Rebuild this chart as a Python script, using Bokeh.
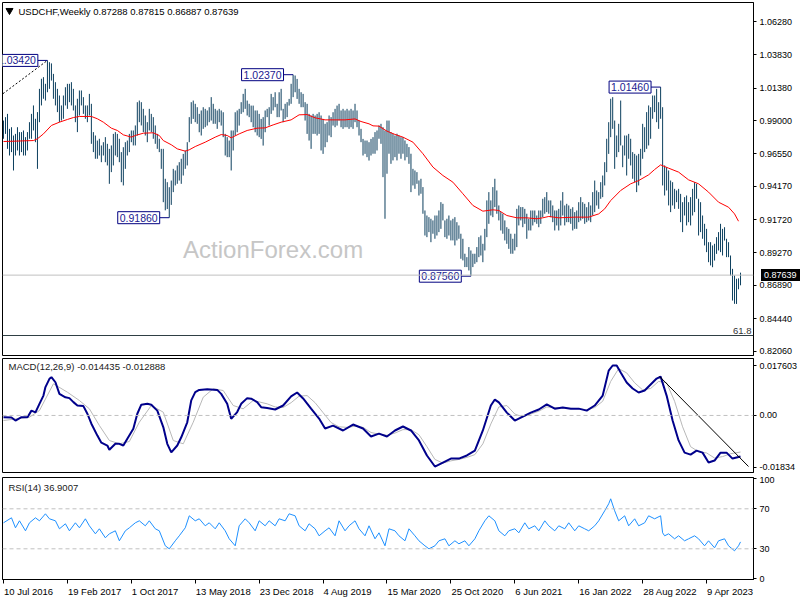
from bokeh.plotting import figure
from bokeh.layouts import column
from bokeh.models import Range1d, FixedTicker, PrintfTickFormatter, Span, Label, Div
from bokeh.core.properties import value
from bokeh.embed import file_html
from bokeh.resources import INLINE

# ---------------- data (weekly USDCHF, bar index 0 = week of 10 Jul 2016) ----------------
highs = [
0.9900,0.9925,0.9949,0.9839,0.9851,0.9790,0.9802,0.9851,0.9815,0.9815,
0.9827,0.9778,0.9815,0.9888,0.9949,1.0011,0.9913,0.9962,1.0133,1.0207,
1.0219,1.0170,1.0342,1.0329,1.0320,1.0243,1.0182,1.0133,1.0084,1.0011,
1.0084,1.0145,1.0170,1.0170,1.0182,1.0133,1.0011,1.0060,1.0121,1.0121,
1.0072,1.0011,1.0011,1.0096,1.0023,0.9815,0.9790,0.9753,0.9766,0.9717,
0.9741,0.9778,0.9729,0.9692,0.9717,0.9802,0.9815,0.9802,0.9766,0.9668,
0.9704,0.9741,0.9753,0.9802,0.9827,0.9827,0.9864,1.0035,1.0047,1.0035,
0.9986,0.9937,0.9888,0.9986,0.9949,0.9925,0.9864,0.9802,0.9766,0.9692,
0.9692,0.9472,0.9447,0.9410,0.9459,0.9545,0.9533,0.9570,0.9594,0.9619,
0.9655,0.9680,0.9741,0.9925,
1.0035,1.0047,1.0023,0.9998,0.9949,0.9974,0.9998,0.9986,0.9974,0.9998,
1.0072,1.0023,0.9986,0.9974,0.9986,0.9974,0.9961,0.9802,0.9778,0.9753,
0.9827,0.9827,0.9961,0.9974,0.9986,1.0035,1.0096,1.0133,1.0047,1.0023,
1.0010,1.0010,0.9974,0.9974,0.9949,0.9912,0.9925,0.9974,0.9986,0.9998,
1.0096,1.0072,1.0108,1.0023,1.0108,1.0133,0.9986,1.0023,1.0035,1.0059,
1.0170,1.0237,1.0231,1.0206,1.0133,1.0108,1.0096,1.0035,1.0023,0.9949,
0.9937,0.9949,0.9937,0.9949,0.9961,0.9937,0.9912,0.9876,0.9888,0.9937,
0.9925,0.9961,0.9986,1.0010,1.0023,0.9974,0.9986,0.9974,0.9986,0.9974,
0.9986,0.9974,1.0023,0.9974,0.9900,0.9839,0.9765,0.9753,0.9753,0.9741,
0.9765,
0.9778,0.9815,0.9827,0.9864,0.9876,0.9851,0.9827,0.9900,0.9900,0.9815,
0.9803,0.9790,0.9803,0.9790,0.9778,0.9778,0.9754,0.9729,0.9705,0.9656,
0.9545,0.9533,0.9521,0.9460,0.9472,0.9411,0.9239,0.9202,0.9190,0.9178,
0.9166,0.9202,0.9202,0.9239,0.9300,0.9288,0.9166,0.9178,0.9202,0.9166,
0.9178,0.9190,0.9153,0.9129,0.9068,0.9031,0.8921,0.8896,0.8970,0.8945,
0.8921,0.8921,0.8970,0.9043,0.9055,0.8994,0.9104,0.9313,0.9374,0.9313,
0.9411,0.9472,0.9386,0.9276,0.9227,0.9215,0.9166,0.9116,0.9104,0.9068,
0.9031,0.9068,0.9251,0.9276,0.9264,0.9264,0.9251,0.9215,0.9178,0.9239,
0.9239,0.9239,0.9202,0.9239,0.9239,0.9325,0.9337,0.9374,0.9313,0.9313,
0.9276,0.9239,0.9239,0.9251,
0.9312,0.9374,0.9276,0.9288,0.9276,0.9251,0.9263,0.9227,0.9239,0.9300,
0.9337,0.9300,0.9288,0.9263,0.9300,0.9276,0.9374,0.9459,0.9386,0.9374,
0.9447,0.9496,0.9594,0.9766,0.9888,1.0060,1.0072,0.9900,0.9790,0.9876,
1.0047,0.9717,0.9790,0.9790,0.9802,0.9766,0.9668,0.9655,0.9643,0.9655,
0.9692,0.9876,0.9851,0.9962,1.0011,0.9998,1.0084,1.0084,1.0133,1.0035,
1.0146,0.9998,0.9570,0.9557,0.9533,0.9459,0.9447,0.9398,0.9386,0.9398,
0.9361,0.9300,0.9337,0.9349,0.9300,0.9337,0.9398,0.9447,0.9435,0.9325,
0.9300,0.9202,0.9141,0.9104,0.9006,0.9006,0.8982,0.8994,0.9043,0.9080,
0.9141,0.9104,0.9116,0.9031,0.9006,0.8908,0.8810,0.8761,0.8737,0.8740,
0.8782]

lows = [
0.9766,0.9802,0.9692,0.9643,0.9668,0.9533,0.9643,0.9680,0.9643,0.9668,
0.9643,0.9643,0.9680,0.9766,0.9766,0.9827,0.9741,0.9545,0.9888,1.0011,
1.0060,1.0047,1.0108,1.0133,1.0194,1.0060,1.0011,0.9962,0.9888,0.9900,
0.9913,1.0011,0.9986,1.0035,1.0011,0.9974,0.9888,0.9815,0.9937,1.0011,
0.9949,0.9913,0.9888,0.9937,0.9729,0.9668,0.9619,0.9619,0.9643,0.9594,
0.9643,0.9594,0.9570,0.9435,0.9521,0.9570,0.9643,0.9631,0.9594,0.9447,
0.9423,0.9545,0.9643,0.9668,0.9741,0.9717,0.9717,0.9790,0.9888,0.9864,
0.9815,0.9790,0.9741,0.9827,0.9815,0.9766,0.9729,0.9692,0.9668,0.9545,
0.9300,0.9240,0.9250,0.9186,0.9280,0.9374,0.9423,0.9435,0.9459,0.9435,
0.9496,0.9545,0.9570,0.9741,
0.9876,0.9912,0.9888,0.9876,0.9814,0.9790,0.9839,0.9851,0.9863,0.9888,
0.9900,0.9876,0.9876,0.9839,0.9888,0.9863,0.9778,0.9643,0.9631,0.9631,
0.9533,0.9680,0.9790,0.9814,0.9863,0.9949,0.9961,0.9986,0.9937,0.9925,
0.9888,0.9851,0.9814,0.9790,0.9778,0.9765,0.9716,0.9814,0.9925,0.9863,
0.9949,0.9974,0.9998,0.9925,0.9925,0.9974,0.9888,0.9912,0.9925,1.0010,
1.0023,1.0072,1.0108,1.0059,1.0023,0.9998,0.9998,0.9900,0.9802,0.9753,
0.9692,0.9802,0.9802,0.9790,0.9802,0.9680,0.9655,0.9704,0.9741,0.9790,
0.9778,0.9863,0.9851,0.9863,0.9900,0.9851,0.9839,0.9851,0.9851,0.9839,
0.9851,0.9839,0.9888,0.9851,0.9790,0.9741,0.9643,0.9655,0.9631,0.9606,
0.9643,
0.9656,0.9656,0.9680,0.9766,0.9729,0.9484,0.9178,0.9509,0.9656,0.9582,
0.9607,0.9631,0.9607,0.9656,0.9619,0.9656,0.9607,0.9631,0.9582,0.9374,
0.9423,0.9398,0.9435,0.9349,0.9362,0.9215,0.9055,0.9043,0.9080,0.9006,
0.9068,0.9031,0.9055,0.9080,0.9104,0.9166,0.9043,0.9031,0.9055,0.9019,
0.9019,0.8982,0.9019,0.9031,0.8884,0.8872,0.8823,0.8823,0.8798,0.8756,
0.8823,0.8847,0.8859,0.8896,0.8908,0.8859,0.8945,0.9043,0.9141,0.9202,
0.9190,0.9264,0.9215,0.9166,0.9092,0.9068,0.9019,0.8994,0.8957,0.8921,
0.8921,0.8945,0.8970,0.9129,0.9166,0.9116,0.9141,0.9031,0.9092,0.9092,
0.9129,0.9153,0.9141,0.9116,0.9141,0.9190,0.9215,0.9227,0.9215,0.9190,
0.9153,0.9092,0.9129,0.9092,
0.9129,0.9202,0.9129,0.9153,0.9153,0.9141,0.9092,0.9104,0.9104,0.9153,
0.9165,0.9178,0.9141,0.9153,0.9165,0.9153,0.9202,0.9227,0.9276,0.9251,
0.9325,0.9337,0.9423,0.9521,0.9655,0.9778,0.9839,0.9545,0.9631,0.9668,
0.9717,0.9557,0.9643,0.9496,0.9619,0.9570,0.9472,0.9447,0.9374,0.9423,
0.9496,0.9619,0.9668,0.9692,0.9717,0.9766,0.9913,0.9962,0.9888,0.9839,
0.9913,0.9423,0.9349,0.9386,0.9276,0.9227,0.9276,0.9251,0.9300,0.9251,
0.9153,0.9080,0.9202,0.9129,0.9153,0.9129,0.9202,0.9227,0.9325,0.9055,
0.9080,0.9031,0.8982,0.8933,0.8859,0.8835,0.8822,0.8871,0.8920,0.8945,
0.8933,0.8908,0.9018,0.8896,0.8896,0.8761,0.8577,0.8553,0.8552,0.8660,
0.8689]

# red moving average (sampled week index, value)
ma_week = [0,15,17,20,24,28,32,35,38,44,47,50,54,57,60,64,66,70,75,78,80,84,87,91,93,
           96,101,106,109,112,114,118,122,127,131,135,139,144,148,152,156,161,166,171,176,179,183,
           185,188,192,196,200,205,210,215,220,225,230,235,240,245,248,252,257,262,267,270,273,278,
           286,293,298,301,304,309,314,318,323,326,329,333,338,343,348,353,358,363,366,368]
ma_value = [0.9746,0.9753,0.9766,0.9802,0.9864,0.9888,0.9908,0.9922,0.9930,0.9930,0.9913,0.9888,
            0.9844,0.9827,0.9795,0.9778,0.9790,0.9807,0.9810,0.9790,0.9753,0.9722,0.9692,0.9675,0.9685,
            0.9709,0.9741,0.9778,0.9797,0.9790,0.9773,0.9802,0.9827,0.9844,0.9846,0.9868,0.9888,0.9905,
            0.9942,0.9944,0.9920,0.9905,0.9905,0.9905,0.9912,0.9893,0.9876,
            0.9861,0.9859,0.9822,0.9798,0.9778,0.9741,0.9656,0.9558,0.9496,0.9447,0.9362,0.9276,0.9234,
            0.9244,0.9239,0.9202,0.9185,0.9185,0.9178,0.9185,0.9195,0.9185,
            0.9190,0.9190,0.9214,0.9251,0.9312,0.9386,0.9435,0.9459,0.9501,0.9540,0.9574,0.9550,0.9521,
            0.9464,0.9435,0.9374,0.9300,0.9263,0.9214,0.9160]

# MACD(12,26,9) main line and signal (sampled)
macd_week = [0,4,6,9,12,14,16,18,20,21,23,24,26,28,31,33,35,37,40,42,44,47,49,52,53,56,58,60,62,65,
             67,69,72,74,77,80,82,84,87,89,92,94,96,98,102,107,109,112,114,117,119,122,124,127,129,132,
             136,140,144,147,150,154,158,161,165,170,175,180,184,188,192,196,200,204,208,212,216,220,
             224,228,232,236,240,244,246,248,252,256,260,264,268,272,276,280,284,288,292,296,300,303,
             305,307,309,312,315,318,321,324,327,329,332,335,338,341,344,347,350,353,356,359,362,365,369]
macd_value = [-0.00062,-0.00072,-0.00178,-0.0006,-0.0006,0.0017,0.0011,0.0041,0.0070,0.0100,0.0129,
              0.0135,0.0117,0.0076,0.0064,0.0061,0.0047,0.0035,0.0033,0.0006,-0.0029,-0.0071,-0.0096,
              -0.0106,-0.0121,-0.0100,-0.0100,-0.0106,-0.0082,-0.0047,0.0006,0.0038,0.0041,0.0038,0.0017,
              -0.0041,-0.0100,-0.0130,-0.0106,-0.0077,-0.0024,0.0053,0.0082,0.0090,0.0092,0.0090,0.0076,
              0.0041,-0.0012,0.0012,0.0041,0.0061,0.0059,0.0047,0.0029,0.0026,
              0.0021,0.0035,0.0067,0.0081,0.0060,0.0024,-0.0011,-0.0046,-0.0036,-0.0053,-0.0032,-0.0046,
              -0.0074,-0.0064,-0.0074,-0.0053,-0.0039,-0.0053,-0.0088,-0.0141,-0.0180,-0.0166,-0.0152,
              -0.0152,-0.0141,-0.0124,-0.0053,0.0035,0.0056,0.0046,0.0010,-0.0018,-0.0004,0.0010,0.0021,
              0.0039,0.0024,0.0028,0.0024,0.0024,0.0017,0.0035,0.0070,0.0158,0.0176,0.0176,0.0151,0.0116,
              0.0095,0.0081,0.0088,0.0109,0.0130,0.0137,0.0070,-0.0018,-0.0088,-0.0131,-0.0138,-0.0124,
              -0.0131,-0.0166,-0.0159,-0.0131,-0.0131,-0.0152,-0.014435]
signal_week = [0,13,18,25,32,38,43,48,53,58,63,68,74,80,85,90,95,100,105,110,115,120,125,132,
               136,140,144,148,152,156,160,164,168,172,176,180,184,188,192,196,200,204,208,212,216,
               220,224,228,232,236,240,244,248,252,256,260,264,268,272,276,280,284,288,292,296,300,
               304,308,312,316,320,324,328,332,336,340,344,348,352,356,360,364,369]
signal_value = [-0.00178,-0.00062,0.00174,0.01115,0.00819,0.00527,0.00234,-0.00354,-0.00883,-0.00999,
                -0.00918,-0.00238,0.00351,0.00115,-0.00883,-0.00999,-0.00238,0.00643,0.00939,0.00879,
                0.00351,0.00234,0.00527,0.00410,
                0.0030,0.0028,0.0045,0.0068,0.0070,0.0045,0.0010,-0.0025,-0.0040,-0.0042,-0.0038,-0.0042,
                -0.0060,-0.0066,-0.0070,-0.0062,-0.0050,-0.0050,-0.0068,-0.0110,-0.0155,-0.0168,-0.0160,
                -0.0155,-0.0148,-0.0138,-0.0100,-0.0030,0.0030,0.0035,0.0005,-0.0005,0.0005,0.0015,0.0030,
                0.0028,0.0027,0.0025,0.0024,0.0020,0.0028,0.0050,0.0120,0.0165,0.0150,0.0115,0.0090,
                0.0095,0.0120,0.0115,0.0050,-0.0040,-0.0110,-0.0128,-0.0132,-0.0150,-0.0145,-0.0135,
                -0.012888]

# RSI(14) (sampled)
rsi_week = [0,4,6,8,11,13,16,18,21,23,26,28,31,33,36,38,41,43,46,48,51,53,56,58,61,63,66,68,71,73,
            76,78,81,83,86,88,91,93,96,98,101,103,106,108,111,113,116,118,121,123,126,128,131,133,
            136,138,141,143,146,148,151,153,156,158,161,163,166,168,171,173,176,178,181,183,186,188,
            191,193,196,198,201,203,206,208,211,213,216,218,221,223,226,228,231,233,236,238,241,243,
            246,248,251,253,256,258,261,263,266,268,271,273,276,278,281,283,286,288,291,293,296,298,
            301,303,304,306,308,311,313,316,318,321,323,326,329,330,331,333,336,338,341,343,346,348,
            351,353,356,358,361,363,366,368,369]
rsi_value = [56,61,51,58,48,56,61,58,65,60,58,50,55,48,56,51,60,53,45,50,41,45,48,38,48,51,56,58,53,
             58,50,48,33,30,38,43,51,63,58,60,53,56,50,56,48,40,33,53,60,56,48,58,53,58,53,60,58,65,
             63,53,48,55,50,43,48,51,43,58,48,53,58,50,43,53,40,46,33,50,48,43,38,50,43,38,33,30,33,
             38,40,33,38,35,38,33,40,48,58,63,58,48,43,48,50,46,56,50,53,48,58,53,48,53,50,56,48,53,
             50,48,53,58,68,75,80,68,58,63,53,60,53,56,63,60,63,46,43,45,40,43,38,40,43,40,33,38,31,
             38,40,33,28,33,36.9007]

price_ticks = [1.0628, 1.0383, 1.0138, 0.9900, 0.9655, 0.9417, 0.9172, 0.8927, 0.8689, 0.8444, 0.8206]
macd_ticks = [-0.01834, 0.0, 0.017603]
macd_tick_labels = {-0.01834: "-0.01834", 0.0: "0.00", 0.017603: "0.017603"}
rsi_ticks = [0, 30, 70, 100]
date_ticks = [0, 32, 64, 96, 128, 160, 192, 224, 256, 288, 320, 352]
date_labels = ["10 Jul 2016", "19 Feb 2017", "1 Oct 2017", "13 May 2018", "23 Dec 2018",
               "4 Aug 2019", "15 Mar 2020", "25 Oct 2020", "6 Jun 2021", "16 Jan 2022",
               "28 Aug 2022", "9 Apr 2023"]

hl_week = [22, 83, 145, 234, 329]
hl_price = [1.0342, 0.9186, 1.0237, 0.8756, 1.0146]
hl_text = ["1.03420", "0.91860", "1.02370", "0.87560", "1.01460"]

last_close = 0.87639
fib_level = 0.8320
header = "USDCHF,Weekly  0.87288 0.87815 0.86887 0.87639"

# ---------------- styling helpers ----------------
FONT = "Liberation Sans"
BAR_COLOR = "#0c3f5e"
weeks = list(range(len(highs)))
X_OFF = 0.5


def px_week(xp):
    return (xp - 2) / 2.0 - X_OFF


def py_price(yp):
    return 1.0628 - (yp - 21) * 0.000735


xr = Range1d(-X_OFF, 376 - X_OFF)


def make_fig(h, yr, top, bottom, with_xaxis=False, with_yaxis=True):
    p = figure(width=800, height=h, x_range=xr, y_range=yr, output_backend="svg",
               toolbar_location=None, x_axis_location="below" if with_xaxis else None,
               y_axis_location="right" if with_yaxis else None, min_border_left=2,
               min_border_right=46, min_border_top=top, min_border_bottom=bottom)
    p.grid.visible = False
    p.outline_line_color = "black"
    p.outline_line_width = 1
    p.border_fill_color = "white"
    p.background_fill_color = "white"
    if with_yaxis:
        ax = p.yaxis[0]
        ax.major_tick_in = 0
        ax.major_tick_out = 3
        ax.minor_tick_line_color = None
        ax.major_label_standoff = 3
        ax.axis_line_color = "black"
        ax.major_label_text_font = FONT
        ax.major_label_text_font_size = "9px"
        ax.major_label_text_color = "black"
    return p


# ---------------- price panel ----------------
p1 = make_fig(357, Range1d(py_price(355), py_price(2)), 2, 2)
p1.yaxis[0].ticker = FixedTicker(ticks=price_ticks)
p1.yaxis[0].formatter = PrintfTickFormatter(format="%.5f")

p1.add_layout(Span(location=last_close, dimension="width", line_color="#c0c0c0", line_width=1))
p1.add_layout(Span(location=fib_level, dimension="width", line_color="#2f3f44", line_width=1))

p1.add_layout(Label(x=px_week(273), y=py_price(249), text="ActionForex.com",
                    text_font=FONT, text_font_size="24px", text_color="#c6c6c6",
                    text_align="center", text_baseline="middle"))

p1.segment(x0=weeks, y0=lows, x1=weeks, y1=highs, line_color=BAR_COLOR, line_width=1)
p1.line(ma_week, ma_value, line_color="#ff0000", line_width=1)

# dashed trend line into the 2016 high
p1.line([px_week(-4), hl_week[0]], [py_price(98), hl_price[0]], line_color="black",
        line_width=1, line_dash="2 2")

# swing high/low labels with connectors
GAP = 4.8
p1.segment(x0=[w - GAP for w in hl_week], y0=hl_price, x1=hl_week, y1=hl_price,
           line_color="#000080", line_width=1)
p1.text(x=[w - GAP for w in hl_week], y=hl_price, text=hl_text, text_align="right",
        text_baseline="middle", text_font=value(FONT), text_font_size=value("10.5px"),
        text_color="#1a1a90", background_fill_color="white", border_line_color="#000080",
        border_line_width=1, padding=2)

p1.scatter([px_week(9)], [py_price(10)], marker="inverted_triangle", size=7, color="black")
p1.add_layout(Label(x=px_week(18), y=py_price(5), text=header, text_font=FONT,
                    text_font_size="9.5px", text_color="black", text_baseline="top"))
p1.add_layout(Label(x=px_week(752), y=py_price(333), text="61.8", text_font=FONT,
                    text_font_size="9.5px", text_color="#333333", text_align="right",
                    text_baseline="bottom"))

# ---------------- MACD panel ----------------
def my_macd(yp):
    return 0.017603 - (yp - 365) * 0.0003524


p2 = make_fig(119, Range1d(my_macd(472), my_macd(358)), 1, 4)
p2.yaxis[0].ticker = FixedTicker(ticks=macd_ticks)
p2.yaxis[0].major_label_overrides = macd_tick_labels
p2.add_layout(Span(location=0, dimension="width", line_color="#c0c0c0", line_width=1,
                   line_dash="4 3"))
p2.line(signal_week, signal_value, line_color="#b8b8b8", line_width=1)
p2.line(macd_week, macd_value, line_color="#00008b", line_width=2)
p2.segment(x0=[px_week(660)], y0=[my_macd(376)], x1=[px_week(749)], y1=[my_macd(466)],
           line_color="black", line_width=1)
p2.add_layout(Label(x=px_week(8), y=my_macd(360),
                    text="MACD(12,26,9) -0.014435 -0.012888", text_font=FONT,
                    text_font_size="9.5px", text_color="#1a1a1a", text_baseline="top"))

# ---------------- RSI panel ----------------
def my_rsi(yp):
    return 30 + (548.3 - yp)


p3 = make_fig(109, Range1d(my_rsi(579), my_rsi(477)), 1, 6, with_xaxis=True)
p3.yaxis[0].ticker = FixedTicker(ticks=rsi_ticks)
for lvl in (70, 30):
    p3.add_layout(Span(location=lvl, dimension="width", line_color="#c0c0c0", line_width=1,
                       line_dash="4 3"))
p3.line(rsi_week, rsi_value, line_color="#1e90ff", line_width=1)
p3.add_layout(Label(x=px_week(8), y=my_rsi(481), text="RSI(14) 36.9007",
                    text_font=FONT, text_font_size="9.5px", text_color="#1a1a1a",
                    text_baseline="top"))
xa = p3.xaxis[0]
xa.ticker = FixedTicker(ticks=date_ticks)
xa.major_label_overrides = {t: "" for t in date_ticks}
xa.major_label_text_font_size = "1px"
xa.major_tick_in = 0
xa.major_tick_out = 4
xa.minor_tick_line_color = None
xa.major_label_standoff = 0
xa.axis_line_color = "black"

# ---------------- date strip (labels start just right of each tick) ----------------
p4 = figure(width=800, height=15, x_range=xr, y_range=Range1d(15, 0), output_backend="svg",
            toolbar_location=None, x_axis_location=None, y_axis_location=None,
            min_border_left=2, min_border_right=46, min_border_top=0, min_border_bottom=0)
p4.grid.visible = False
p4.outline_line_color = None
p4.border_fill_color = "white"
p4.background_fill_color = "white"
p4.text(x=[t + 0.25 for t in date_ticks], y=[0.5] * len(date_ticks), text=date_labels,
        text_align="left", text_baseline="top", text_font=value(FONT),
        text_font_size=value("9.5px"), text_color="black")

# current-price tag on the price scale (overlaid on the axis area)
tag = Div(text="0.87639", width=41, height=12,
          styles={"position": "absolute", "left": "756px", "top": "264px",
                  "background-color": "black", "color": "white",
                  "font-family": "Liberation Sans", "font-size": "9px",
                  "line-height": "12px", "padding-left": "3px", "box-sizing": "border-box"})

root = column(p1, p2, p3, p4, tag, spacing=0)

with open("out.html", "w") as f:
    f.write(file_html(root, INLINE))
